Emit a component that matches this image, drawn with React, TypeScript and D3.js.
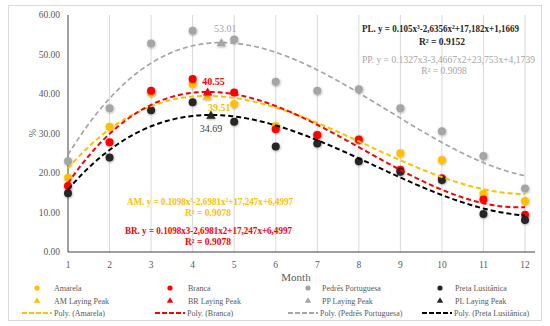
import React from "react";
import * as d3 from "d3";

const months = [1, 2, 3, 4, 5, 6, 7, 8, 9, 10, 11, 12];
const amarela = [18.8, 31.7, 40.3, 42.5, 37.5, 31.9, 29.6, 28.6, 25.0, 23.3, 14.7, 12.9];
const branca = [16.7, 27.8, 40.8, 43.8, 40.4, 31.1, 29.6, 28.4, 20.8, 18.7, 13.3, 9.4];
const pedres = [23.0, 36.4, 52.8, 56.0, 53.8, 43.1, 40.8, 41.2, 36.4, 30.6, 24.3, 16.1];
const preta = [14.9, 23.9, 35.9, 37.9, 33.0, 26.7, 27.5, 23.0, 20.3, 18.2, 9.6, 8.1];

const amCoef = [0.1098, -2.6981, 17.247, 6.4997];
const ppCoef = [0.1327, -3.4667, 23.753, 4.1739];
const plCoef = [0.105, -2.6356, 17.182, 1.1669];

const peakMonths = [4.35, 4.36, 4.69, 4.44];
const peakValues = [39.51, 40.55, 53.01, 34.69];
const peakLabels = ["39.51", "40.55", "53.01", "34.69"];

const yTicks = [0, 10, 20, 30, 40, 50, 60];

const seriesNames = ["Amarela", "Branca", "Pedrês Portuguesa", "Preta Lusitânica"];
const peakNames = ["AM Laying Peak", "BR Laying Peak", "PP Laying Peak", "PL Laying Peak"];
const polyNames = ["Poly. (Amarela)", "Poly. (Branca)", "Poly. (Pedrês Portuguesa)", "Poly. (Preta Lusitânica)"];

const pointColors = ["#FFC000", "#FF0000", "#A5A5A5", "#262626"];
const lineColors = ["#FFC000", "#FF0000", "#A5A5A5", "#000000"];

function polyfit3(xs: number[], ys: number[]): number[] {
  // least squares cubic fit (trendline of the Branca series); returns [a3,a2,a1,a0]
  const n = 4;
  const A: number[][] = [];
  for (let i = 0; i < n; i++) A.push(new Array(n + 1).fill(0));
  for (let k = 0; k < xs.length; k++) {
    const p = [1, xs[k], xs[k] ** 2, xs[k] ** 3];
    for (let i = 0; i < n; i++) {
      for (let j = 0; j < n; j++) A[i][j] += p[i] * p[j];
      A[i][n] += p[i] * ys[k];
    }
  }
  for (let i = 0; i < n; i++) {
    let mx = i;
    for (let r = i + 1; r < n; r++) {
      if (Math.abs(A[r][i]) > Math.abs(A[mx][i])) mx = r;
    }
    const tmp = A[i];
    A[i] = A[mx];
    A[mx] = tmp;
    for (let r = 0; r < n; r++) {
      if (r === i) continue;
      const f = A[r][i] / A[i][i];
      for (let c = i; c <= n; c++) A[r][c] -= f * A[i][c];
    }
  }
  const sol = A.map((row, i) => row[n] / row[i]);
  return [sol[3], sol[2], sol[1], sol[0]];
}

const brCoef = polyfit3(months, branca);

const evalPoly = (c: number[], x: number) => c[0] * x ** 3 + c[1] * x ** 2 + c[2] * x + c[3];

export default function App() {
  const W = 550, H = 326;
  const x = d3.scaleLinear().domain([1, 12]).range([68, 525]);
  const y = d3.scaleLinear().domain([0, 60]).range([252, 15]);
  const font = "'Liberation Serif', 'DejaVu Serif', serif";
  const allSeries = [amarela, branca, pedres, preta];
  const coefs = [amCoef, brCoef, ppCoef, plCoef];
  const xsFine = d3.range(1, 12.0001, 0.05);
  const tri = d3.symbol().type(d3.symbolTriangle);

  const legendCols = [37, 170, 308, 440];
  const legendText = [54, 188, 322, 455];
  const legendRows = [288, 301, 313];
  const legendLine = [[22, 52], [155, 185], [288, 318], [422, 452]];

  const labelOffsets = [
    { dx: 12, dy: 12, color: "#FFC000", weight: "bold" },
    { dx: 6, dy: -10, color: "#FF0000", weight: "bold" },
    { dx: 4, dy: -14, color: "#A5A5A5", weight: "normal" },
    { dx: 0, dy: 14, color: "#404040", weight: "normal" },
  ];

  return (
    <svg width={W} height={H} style={{ position: "absolute", left: 0, top: 0, background: "#fff" }} fontFamily={font}>
      <defs>
        <filter id="sh" x="-50%" y="-50%" width="200%" height="200%">
          <feDropShadow dx="0.5" dy="0.8" stdDeviation="0.8" floodColor="#000" floodOpacity="0.35" />
        </filter>
      </defs>
      <rect x={8.5} y={5.5} width={533} height={315} fill="#fff" stroke="#D9D9D9" />
      {months.slice(1).map((m) => (
        <line key={m} x1={x(m)} x2={x(m)} y1={y(60)} y2={y(0)} stroke="#D9D9D9" strokeWidth={1} />
      ))}
      <line x1={x(1)} x2={x(1)} y1={y(60)} y2={y(0)} stroke="#404040" strokeWidth={1} />
      <line x1={x(1)} x2={535} y1={y(0)} y2={y(0)} stroke="#404040" strokeWidth={1} />
      {yTicks.map((t) => (
        <text key={t} x={60} y={y(t)} dy="0.35em" textAnchor="end" fontSize={9.5} fill="#595959">
          {t.toFixed(2)}
        </text>
      ))}
      {months.map((m) => (
        <text key={m} x={x(m)} y={265} dy="0.35em" textAnchor="middle" fontSize={9.5} fill="#595959">
          {m}
        </text>
      ))}
      <text x={296} y={277} dy="0.35em" textAnchor="middle" fontSize={11} fill="#595959">Month</text>
      <text transform={`translate(32,133) rotate(-90)`} textAnchor="middle" dy="0.35em" fontSize={10} fill="#595959">%</text>

      {allSeries.map((s, si) =>
        s.map((v, i) => (
          <circle key={`${si}-${i}`} cx={x(months[i])} cy={y(v)} r={4} fill={pointColors[si]} filter="url(#sh)" />
        ))
      )}
      {coefs.map((c, si) => (
        <path key={si} d={d3.line<number>().x((d) => x(d)).y((d) => y(evalPoly(c, d)))(xsFine) as string}
          fill="none" stroke={lineColors[si]} strokeWidth={si === 2 ? 1.7 : 2} strokeDasharray="5,3" />
      ))}
      {peakMonths.map((pm, i) => (
        <path key={i} d={tri.size(38)() as string} transform={`translate(${x(pm)},${y(peakValues[i]) + 1})`} fill={pointColors[i]} filter="url(#sh)" />
      ))}
      {peakLabels.map((l, i) => (
        <text key={i} x={x(peakMonths[i]) + labelOffsets[i].dx} y={y(peakValues[i]) + labelOffsets[i].dy} dy="0.35em"
          textAnchor="middle" fontSize={10} fill={labelOffsets[i].color} fontWeight={labelOffsets[i].weight}>
          {l}
        </text>
      ))}

      <text x={362} y={28} dy="0.35em" fontSize={10} fontWeight="bold" fill="#262626" textLength={157} lengthAdjust="spacingAndGlyphs">
        PL. y = 0.105x³-2,6356x²+17,182x+1,1669
      </text>
      <text x={442} y={42} dy="0.35em" textAnchor="middle" fontSize={9.5} fontWeight="bold" fill="#262626">R² = 0.9152</text>
      <text x={362} y={59} dy="0.35em" fontSize={10} fill="#A5A5A5" textLength={173} lengthAdjust="spacingAndGlyphs">
        PP. y = 0.1327x3-3,4667x2+23,753x+4,1739
      </text>
      <text x={444} y={71} dy="0.35em" textAnchor="middle" fontSize={9.5} fill="#A5A5A5">R² = 0.9098</text>
      <text x={127} y={201} dy="0.35em" fontSize={10} fontWeight="bold" fill="#FFC000" textLength={166} lengthAdjust="spacingAndGlyphs">
        AM. y = 0.1098x³-2,6981x²+17,247x+6,4997
      </text>
      <text x={208} y={213} dy="0.35em" textAnchor="middle" fontSize={9.5} fontWeight="bold" fill="#FFC000">R² = 0.9078</text>
      <text x={125} y={230} dy="0.35em" fontSize={10} fontWeight="bold" fill="#FF0000" textLength={167} lengthAdjust="spacingAndGlyphs">
        BR. y = 0.1098x3-2,6981x2+17,247x+6,4997
      </text>
      <text x={208} y={242} dy="0.35em" textAnchor="middle" fontSize={9.5} fontWeight="bold" fill="#FF0000">R² = 0.9078</text>

      {seriesNames.map((n, i) => (
        <g key={n}>
          <circle cx={legendCols[i]} cy={legendRows[0]} r={2.6} fill={pointColors[i]} />
          <text x={legendText[i]} y={legendRows[0]} dy="0.35em" fontSize={8} fill="#595959">{n}</text>
          <path d={d3.symbol().type(d3.symbolTriangle).size(18)() as string} transform={`translate(${legendCols[i]},${legendRows[1]})`} fill={pointColors[i]} />
          <text x={legendText[i]} y={legendRows[1]} dy="0.35em" fontSize={8} fill="#595959">{peakNames[i]}</text>
          <line x1={legendLine[i][0]} x2={legendLine[i][1]} y1={legendRows[2]} y2={legendRows[2]} stroke={lineColors[i]} strokeWidth={2} strokeDasharray="5,2" />
          <text x={legendLine[i][1] + 2} y={legendRows[2]} dy="0.35em" fontSize={8} fill="#595959">{polyNames[i]}</text>
        </g>
      ))}
    </svg>
  );
}
